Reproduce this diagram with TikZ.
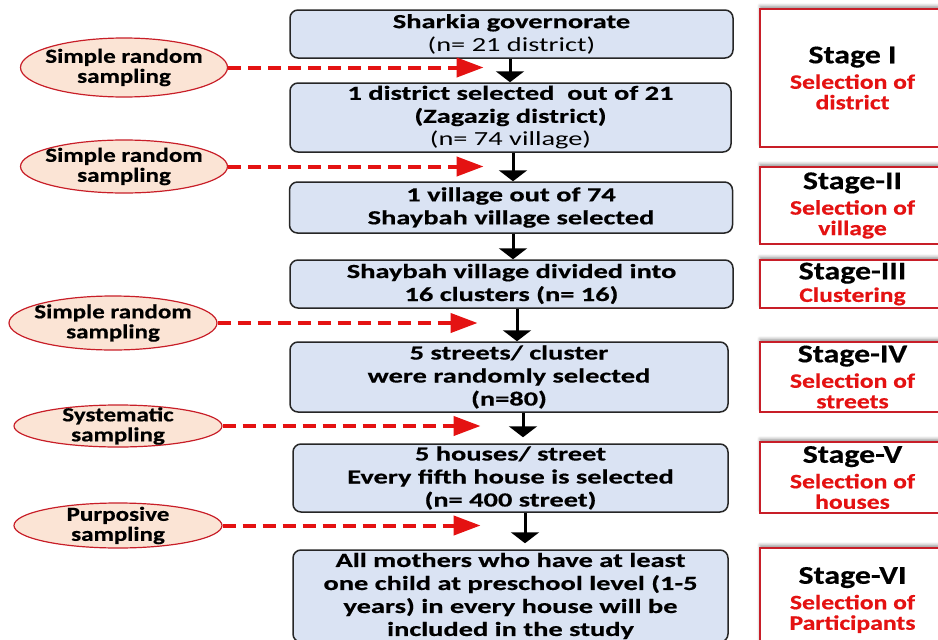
\documentclass[tikz,border=0pt]{standalone}
\usepackage{fontspec}
\setmainfont{Carlito}[FakeStretch=1.25, BoldFeatures={FakeBold=0.5}]
\newfontfamily\caixafont{Carlito}[FakeStretch=1.42, BoldFeatures={FakeBold=0.5}]
\usepackage{xcolor}
\usetikzlibrary{arrows.meta,shapes.geometric,shadows.blur}

\definecolor{azulcaixa}{RGB}{218,227,243}
\definecolor{pessego}{RGB}{251,228,213}
\definecolor{vermelho}{RGB}{228,18,18}
\definecolor{bordaverm}{RGB}{200,30,40}

\newcommand{\etapatitulo}[1]{{\color{black}\fontsize{25.5}{28}\selectfont #1}}

\tikzset{
  caixa/.style={draw=black!85, line width=1.5pt, rounded corners=8pt, fill=azulcaixa, align=center, inner sep=0pt, font=\caixafont\bfseries\fontsize{20}{23}\selectfont},
  eli/.style={ellipse, draw=bordaverm, line width=1.2pt, fill=pessego, minimum width=207pt, inner sep=0pt},
  elitexto/.style={align=center, font=\bfseries\fontsize{20}{20}\selectfont},
  etapa/.style={draw=bordaverm, line width=2pt, fill=white, minimum width=185pt, align=center, text=vermelho, font=\bfseries\fontsize{20.5}{20.5}\selectfont, blur shadow={shadow xshift=0pt, shadow yshift=3pt, shadow blur radius=3pt}},
  seta/.style={line width=3pt, -{Triangle[length=11pt,width=28pt]}},
  tracejado/.style={vermelho, line width=4pt, dash pattern=on 13pt off 7pt, -{Triangle[length=27pt,width=19pt]}},
}

\begin{document}
\begin{tikzpicture}[x=1pt,y=-1pt] %1 pixel da figura = 1 pt, y para baixo

\useasboundingbox (0,0) rectangle (938,640);
\clip (0,0) rectangle (938,640);

%----------------------------------------------------
%Caixas do fluxo principal
%----------------------------------------------------
\node[caixa, minimum width=443pt, minimum height=48pt] (BOX1) at (511.5,34) {Sharkia governorate\\{\mdseries (n= 21 district)}};
\node[caixa, minimum width=441pt, minimum height=69pt] (BOX2) at (510.5,117.5) {1 district selected\ \ out of 21\\(Zagazig district)\\{\mdseries (n= 74 village)}};
\node[caixa, minimum width=443pt, minimum height=51pt] (BOX3) at (511,207.5) {1 village out of 74\\Shaybah village selected};
\node[caixa, minimum width=443pt, minimum height=48pt] (BOX4) at (511.5,284) {Shaybah village divided into\\16 clusters (n= 16)};
\node[caixa, minimum width=438pt, minimum height=70pt] (BOX5) at (509,377) {5 streets/ cluster\\were randomly selected\\(n=80)};
\node[caixa, minimum width=435pt, minimum height=68pt] (BOX6) at (510.5,478) {5 houses/ street\\Every fifth house is selected\\(n= 400 street)};
\node[caixa, minimum width=435pt, minimum height=92pt] (BOX7) at (510.5,596) {All mothers who have at least\\one child at preschool level (1-5\\years) in every house will be\\included in the study};

%----------------------------------------------------
%Setas pretas entre as caixas
%----------------------------------------------------
\draw[seta] ([xshift=-1.5pt]BOX1.south) -- ([xshift=-1.5pt]BOX1.south |- BOX2.north);
\draw[seta] ([xshift=2.5pt]BOX2.south) -- ([xshift=2.5pt]BOX2.south |- BOX3.north);
\draw[seta] ([xshift=2pt]BOX3.south) -- ([xshift=2pt]BOX3.south |- BOX4.north);
\draw[seta] ([xshift=5.5pt]BOX4.south) -- ([xshift=5.5pt]BOX4.south |- BOX5.north);
\draw[seta, shorten >=6pt] ([xshift=14pt]BOX5.south) -- ([xshift=14pt]BOX5.south |- BOX6.north);
\draw[seta, shorten >=6pt] ([xshift=14.5pt]BOX6.south) -- ([xshift=14.5pt]BOX6.south |- BOX7.north);

%----------------------------------------------------
%Elipses com o tipo de amostragem
%----------------------------------------------------
\node[eli, minimum height=59pt, label={[elitexto]center:Simple random\\sampling}] (ELI1) at (124,67.5) {};
\node[eli, minimum height=53pt, label={[elitexto]center:Simple random\\sampling}] (ELI2) at (124,166.5) {};
\node[eli, minimum width=208pt, minimum height=54pt, label={[elitexto]center:Simple random\\sampling}] (ELI3) at (113,323) {};
\node[eli, minimum width=208pt, minimum height=42pt, label={[elitexto]center:Systematic\\sampling}] (ELI4) at (118,426) {};
\node[eli, minimum width=208pt, minimum height=45pt, label={[elitexto]center:Purposive\\sampling}] (ELI5) at (118,525.5) {};

%setas vermelhas tracejadas ate o fluxo
\draw[tracejado] (ELI1.east) -- ++(255.5,0) coordinate (T1);
\draw[tracejado] (ELI2.east) -- ++(255.5,0) coordinate (T2);
\draw[tracejado] (ELI3.east) -- ++(260,0) coordinate (T3);
\draw[tracejado] (ELI4.east) -- ++(258,0) coordinate (T4);
\draw[tracejado] (ELI5.east) -- ++(258,0) coordinate (T5);

%----------------------------------------------------
%Caixas das etapas (lado direito)
%----------------------------------------------------
\node[etapa, minimum height=138pt] (STG1) at (852.5,78) {\etapatitulo{Stage I}\\[5pt]Selection of\\district};
\node[etapa, minimum height=77pt] (STG2) at (852.5,205.5) {\etapatitulo{Stage-II}\\[5pt]Selection of\\village};
\node[etapa, minimum height=48pt, inner ysep=0pt] (STG3) at (852.5,284) {\etapatitulo{Stage-III}\\[2pt]Clustering};
\node[etapa, minimum height=70pt] (STG4) at (852.5,377) {\etapatitulo{Stage-IV}\\[5pt]Selection of\\streets};
\node[etapa, minimum height=71pt] (STG5) at (852.5,477.5) {\etapatitulo{Stage-V}\\[5pt]Selection of\\houses};
\node[etapa, minimum height=104pt] (STG6) at (852.5,600) {\etapatitulo{Stage-VI}\\[5pt]Selection of\\Participants};

\end{tikzpicture}
\end{document}
